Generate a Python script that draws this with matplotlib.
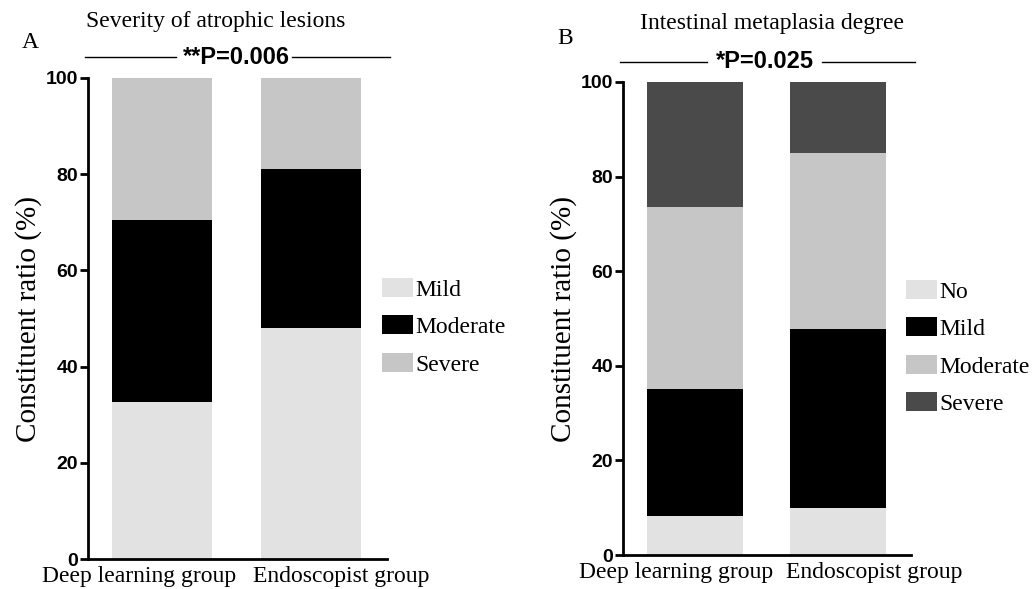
import matplotlib
matplotlib.use("Agg")
import matplotlib.pyplot as plt
from matplotlib.patches import Patch
import numpy as np

W, H = 1035, 589
groups = ["Deep learning group", "Endoscopist group"]

# Panel A: severity of atrophic lesions (%)
a_labels = ["Mild", "Moderate", "Severe"]
a_mild = [32.7, 48.0]
a_moderate = [37.8, 33.0]
a_severe = [29.5, 19.0]
a_colors = ["#e2e2e2", "#000000", "#c6c6c6"]

# Panel B: intestinal metaplasia degree (%)
b_labels = ["No", "Mild", "Moderate", "Severe"]
b_no = [8.3, 10.0]
b_mild = [26.7, 37.8]
b_moderate = [38.5, 37.1]
b_severe = [26.5, 15.1]
b_colors = ["#e2e2e2", "#000000", "#c6c6c6", "#4a4a4a"]

yticks = [0, 20, 40, 60, 80, 100]

SERIF = "Liberation Serif"
SANS = "Liberation Sans"

fig = plt.figure(figsize=(W / 100, H / 100), dpi=100)


def px_axes(x0, x1, y0, y1):
    # x0,x1 left/right pixel; y0 pixel of value 0, y1 pixel of value 100
    return fig.add_axes([x0 / W, (H - y0) / H, (x1 - x0) / W, (y0 - y1) / H])


def draw_panel(ax, series, colors, xlim, label_offsets):
    bottom = np.zeros(len(groups))
    x = np.arange(len(groups))
    for vals, c in zip(series, colors):
        ax.bar(x, vals, bottom=bottom, width=0.67, color=c, linewidth=0)
        bottom += np.array(vals)
    ax.set_xlim(*xlim)
    ax.set_ylim(0, 100)
    ax.set_yticks(yticks)
    ax.set_yticklabels([str(t) for t in yticks], fontfamily=SANS,
                       fontweight="bold", fontsize=14)
    # group labels sit slightly spread apart from the bar centres
    ax.set_xticks(x + np.array(label_offsets))
    ax.set_xticklabels(groups, fontfamily=SERIF, fontsize=17)
    ax.tick_params(axis="x", length=0, pad=5)
    ax.tick_params(axis="y", length=6, width=2, pad=1)
    for s in ["top", "right"]:
        ax.spines[s].set_visible(False)
    for s in ["left", "bottom"]:
        ax.spines[s].set_linewidth(2)
    ax.set_ylabel("Constituent ratio (%)", fontfamily=SERIF, fontsize=21,
                  labelpad=3)
    ax.set_facecolor("none")


axA = px_axes(88, 387, 559, 78)
draw_panel(axA, [a_mild, a_moderate, a_severe], a_colors,
           (-0.497, 1.51), (-0.154, 0.201))
axB = px_axes(623, 911, 555, 82)
draw_panel(axB, [b_no, b_mild, b_moderate, b_severe], b_colors,
           (-0.503, 1.51), (-0.133, 0.252))


def fx(p):
    return p / W


def fy(p):
    return 1 - p / H


def legend(ax, labels, colors, x, ytop):
    handles = [Patch(facecolor=c, edgecolor="none", label=l)
               for l, c in zip(labels, colors)]
    ax.legend(handles=handles, loc="upper left",
              bbox_to_anchor=(fx(x), fy(ytop)), bbox_transform=fig.transFigure,
              frameon=False, borderpad=0, borderaxespad=0,
              handlelength=1.3, handleheight=0.85, handletextpad=0.1,
              labelspacing=0.63,
              prop={"family": SERIF, "size": 17})


legend(axA, a_labels, a_colors, 382, 278)
legend(axB, b_labels, b_colors, 906, 280)

fig.text(fx(216), fy(22), "Severity of atrophic lesions", fontfamily=SERIF,
         fontsize=17, ha="center", va="center")
fig.text(fx(30), fy(43), "A", fontfamily=SERIF, fontsize=17,
         ha="center", va="center")
fig.text(fx(772), fy(24), "Intestinal metaplasia degree", fontfamily=SERIF,
         fontsize=17, ha="center", va="center")
fig.text(fx(565), fy(39), "B", fontfamily=SERIF, fontsize=17,
         ha="center", va="center")


def sig(text, lx0, lx1, rx0, rx1, y, tx):
    fig.add_artist(plt.Line2D([fx(lx0), fx(lx1)], [fy(y), fy(y)],
                              color="black", lw=1.0))
    fig.add_artist(plt.Line2D([fx(rx0), fx(rx1)], [fy(y), fy(y)],
                              color="black", lw=1.0))
    fig.text(fx(tx), fy(y), text, fontfamily=SANS, fontweight="bold",
             fontsize=17, ha="center", va="center")


sig("**P=0.006", 85, 176, 292, 390, 57, 236)
sig("*P=0.025", 620, 707, 822, 915, 62, 765)

fig.savefig("out.png", dpi=100, facecolor="white")
